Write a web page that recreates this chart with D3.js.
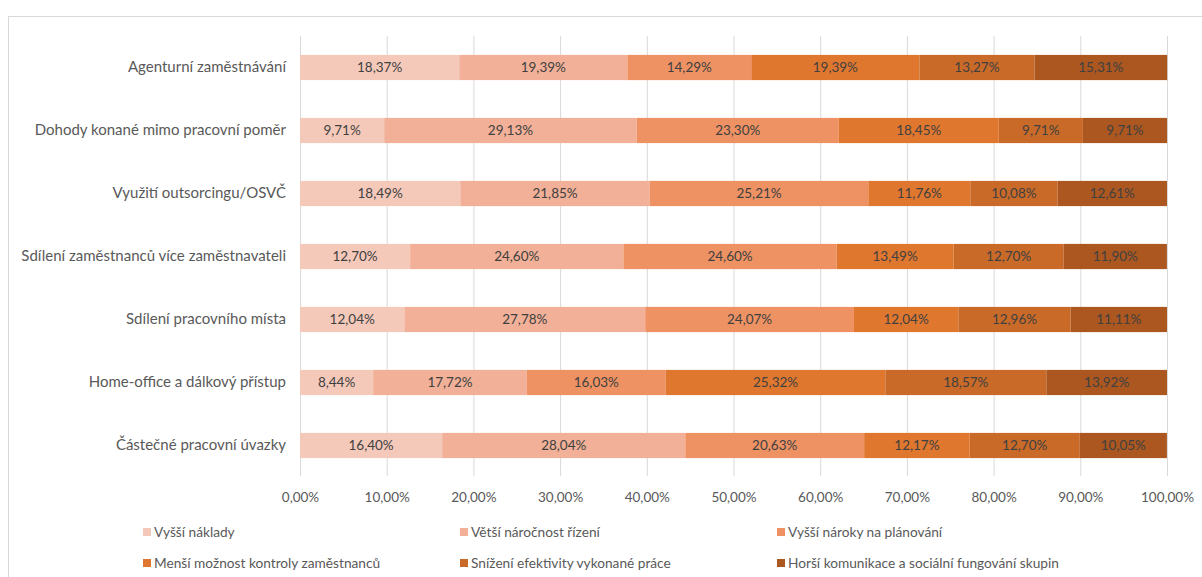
<!DOCTYPE html>
<html><head><meta charset="utf-8">
<script src="https://cdn.jsdelivr.net/npm/d3@7"></script>
<style>body{margin:0;background:#fff}svg{display:block;font-family:Lato,"Open Sans",sans-serif}</style>
</head><body><svg id="c" width="1202" height="577"></svg>
<script>
const categories = ["Agenturní zaměstnávání","Dohody konané mimo pracovní poměr","Využití outsorcingu/OSVČ","Sdílení zaměstnanců více zaměstnavateli","Sdílení pracovního místa","Home-office a dálkový přístup","Částečné pracovní úvazky"];
const seriesNames = ["Vyšší náklady","Větší náročnost řízení","Vyšší nároky na plánování","Menší možnost kontroly zaměstnanců","Snížení efektivity vykonané práce","Horší komunikace a sociální fungování skupin"];
const s1 = [18.37, 9.71, 18.49, 12.70, 12.04, 8.44, 16.40];
const s2 = [19.39, 29.13, 21.85, 24.60, 27.78, 17.72, 28.04];
const s3 = [14.29, 23.30, 25.21, 24.60, 24.07, 16.03, 20.63];
const s4 = [19.39, 18.45, 11.76, 13.49, 12.04, 25.32, 12.17];
const s5 = [13.27, 9.71, 10.08, 12.70, 12.96, 18.57, 12.70];
const s6 = [15.31, 9.71, 12.61, 11.90, 11.11, 13.92, 10.05];
const xTicks = [0,10,20,30,40,50,60,70,80,90,100];
const colors = ["#F5C9BA","#F1B097","#EE9263","#E0772F","#C96A28","#AC5720"];

const series = [s1,s2,s3,s4,s5,s6];
const svg = d3.select("#c");
const fmt = v => v.toFixed(2).replace(".", ",") + "%";

svg.append("rect").attr("x",8.5).attr("y",16.5).attr("width",1220).attr("height",620)
  .attr("fill","#fff").attr("stroke","#d9d9d9");

const x = d3.scaleLinear().domain([0,100]).range([300,1167]);
const y = d3.scaleBand().domain(categories).range([36,477]).paddingInner(0.6).paddingOuter(0.3);

svg.append("g").selectAll("line").data(xTicks).join("line")
  .attr("x1",d=>x(d)+0.5).attr("x2",d=>x(d)+0.5).attr("y1",36).attr("y2",476)
  .attr("stroke","#d9d9d9").attr("stroke-width",1);

const xa = svg.append("g").attr("transform","translate(0,477)")
  .call(d3.axisBottom(x).tickValues(xTicks).tickSize(0).tickFormat(d=>d.toFixed(2).replace(".",",")+"%"));
xa.select(".domain").remove();
xa.selectAll("text").attr("dy",0).attr("y",25).attr("font-size",13.5).attr("fill","#595959").attr("font-family","Lato");

const ya = svg.append("g").attr("transform","translate(286,0)")
  .call(d3.axisLeft(y).tickSize(0));
ya.select(".domain").remove();
ya.selectAll("text").attr("x",0).attr("font-size",15).attr("fill","#595959").attr("font-family","Lato");

const rows = categories.map((c,i)=>{const o={cat:c}; series.forEach((s,j)=>o["k"+j]=s[i]); return o;});
const keys = series.map((s,j)=>"k"+j);
const stack = d3.stack().keys(keys)(rows);
stack.forEach((layer,j)=>{
  const g = svg.append("g");
  g.selectAll("rect").data(layer).join("rect")
    .attr("x",d=>x(d[0])).attr("width",d=>x(d[1])-x(d[0]))
    .attr("y",d=>y(d.data.cat)).attr("height",y.bandwidth())
    .attr("fill",colors[j]);
  g.selectAll("text").data(layer).join("text")
    .attr("x",d=>(x(d[0])+x(d[1]))/2).attr("y",d=>y(d.data.cat)+y.bandwidth()/2)
    .attr("dy","0.35em").attr("text-anchor","middle")
    .attr("font-size",13.5).attr("fill","#404040")
    .text(d=>fmt(d.data["k"+j]));
});

const legX = [143,460,777], legY = [532,563];
const lg = svg.append("g").selectAll("g").data(seriesNames).join("g")
  .attr("transform",(d,i)=>`translate(${legX[i%3]},${legY[Math.floor(i/3)]})`);
lg.append("rect").attr("x",0).attr("y",-4).attr("width",8).attr("height",8).attr("fill",(d,i)=>colors[i]);
lg.append("text").attr("x",11).attr("dy","0.35em").attr("font-size",13.7).attr("fill","#595959").text(d=>d);
</script></body></html>
